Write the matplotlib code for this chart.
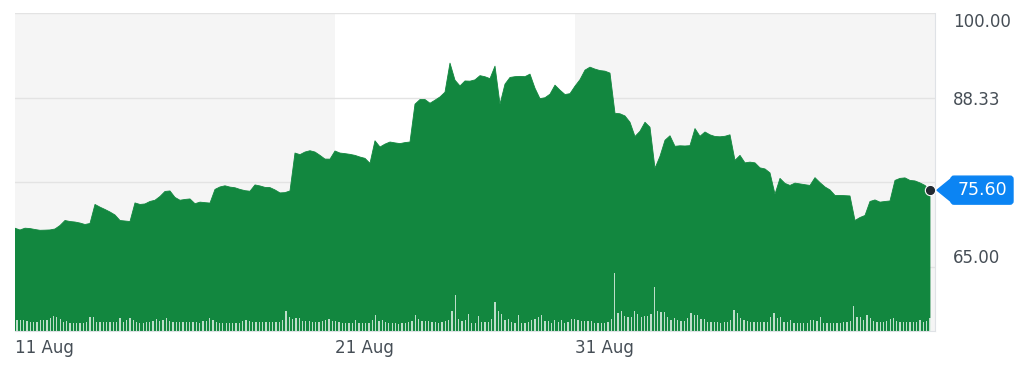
import matplotlib.pyplot as plt
import numpy as np
from matplotlib.patches import Polygon, FancyBboxPatch
from matplotlib.transforms import IdentityTransform

# price, sampled at even steps from 11 Aug to the last trade
price = [
    70.36, 70.11, 70.36, 70.31, 70.18, 70.07, 70.09, 70.12, 70.25, 70.73,
    71.42, 71.28, 71.21, 71.07, 70.87, 71.01, 73.63, 73.26, 72.94, 72.59,
    72.18, 71.42, 71.35, 71.28, 73.84, 73.63, 73.70, 74.04, 74.21, 74.73,
    75.42, 75.49, 74.60, 74.21, 74.32, 74.39, 73.73, 73.95, 73.88, 73.82,
    75.70, 76.04, 76.20, 76.02, 75.93, 75.70, 75.53, 75.45, 76.32, 76.18,
    75.98, 75.95, 75.63, 75.22, 75.26, 75.49, 80.71, 80.49, 80.85, 81.03,
    80.85, 80.39, 79.88, 79.87, 80.99, 80.71, 80.63, 80.53, 80.39, 80.16,
    79.98, 79.29, 82.40, 81.54, 81.94, 82.23, 82.11, 82.01, 82.15, 82.23,
    87.44, 88.08, 88.08, 87.57, 87.99, 88.44, 89.09, 93.10, 90.75, 89.95,
    90.64, 90.61, 90.79, 91.37, 91.22, 90.96, 92.68, 87.44, 90.20, 91.12,
    91.23, 91.27, 91.23, 91.58, 89.64, 88.20, 88.33, 88.82, 90.06, 89.37,
    88.77, 88.89, 89.92, 90.82, 92.13, 92.54, 92.27, 92.07, 91.99, 91.72,
    86.19, 86.12, 85.82, 84.95, 82.99, 83.71, 84.95, 84.26, 78.60, 80.26,
    82.47, 83.09, 81.64, 81.71, 81.68, 81.73, 84.08, 83.02, 83.61, 83.22,
    82.99, 82.95, 83.02, 83.22, 79.70, 80.39, 79.36, 79.46, 79.36, 78.67,
    78.52, 77.98, 75.04, 77.22, 76.53, 76.25, 76.57, 76.46, 76.35, 76.25,
    77.32, 76.64, 76.04, 75.63, 74.87, 74.87, 74.84, 74.80, 71.42, 71.83,
    72.11, 74.04, 74.25, 73.95, 74.04, 74.11, 76.94, 77.22, 77.29, 76.94,
    76.87, 76.60, 76.25, 75.60,
]

# volume per bar (arbitrary units)
volume = [
    11, 11, 11, 10, 9, 9, 9, 11, 11, 11, 13, 15, 14, 12, 9, 10, 8, 8, 8, 8,
    8, 9, 14, 14, 9, 9, 9, 9, 9, 9, 9, 13, 9, 11, 13, 11, 9, 8, 8, 9,
    9, 10, 12, 10, 11, 13, 10, 9, 9, 9, 9, 9, 9, 9, 9, 8, 10, 10, 13, 11,
    9, 8, 8, 8, 8, 8, 8, 8, 10, 11, 10, 9, 9, 9, 9, 9, 9, 9, 9, 9,
    11, 20, 14, 12, 13, 13, 10, 10, 10,
    9, 9, 9, 10, 11, 12, 10, 10, 9, 8, 8, 8, 8, 11, 8, 8, 8, 8, 11, 16,
    10, 11, 9, 8, 8, 8, 7, 8, 8, 9, 10, 16, 12, 10, 10, 10, 9, 9, 8, 9,
    10, 11, 20, 36, 12, 10, 11, 17, 8, 8, 15, 9, 9, 9, 12, 29, 20, 17, 11, 12,
    9, 8, 16, 8, 8, 9, 11, 12, 14, 16, 10, 10, 8, 11, 9, 11, 8, 9, 12, 12,
    11, 10, 10, 10, 10, 8, 8, 8, 8, 9, 12, 58, 18,
    20, 15, 14, 14, 20, 17, 14, 15, 15, 17, 44, 20, 19, 19, 14, 11, 13, 11, 10, 10,
    13, 18, 16, 16, 12, 12, 9, 9, 9, 9, 8, 9, 9, 11, 21, 18, 13, 11, 10, 9,
    9, 9, 9, 9, 9, 14, 18, 13, 14, 9, 9, 11, 8, 8, 8, 8, 8, 11, 11, 10,
    14, 8, 8, 8, 8, 8, 8, 9, 9, 10, 25, 14, 14, 11, 16, 13, 10, 9, 9, 9,
    10, 12, 13, 10, 9, 9, 9, 9, 9, 9, 11, 9, 10, 13,
]

date_labels = ["11 Aug", "21 Aug", "31 Aug"]
date_pos = [0, 64, 112]          # sample index where each day starts
price_ticks = [65.00, 76.67, 88.33, 100.00]
last_price = price[-1]

GREEN = "#12873f"
TEXT = "#464e56"
BLUE = "#0b84f3"

fig = plt.figure(figsize=(10.24, 3.67), dpi=100)
ax = fig.add_axes([15 / 1024, 36 / 367, 920 / 1024, 318 / 367])

x = np.arange(len(price))
x_end = len(price)
ax.set_xlim(0, x_end)
ax.set_ylim(56.2, 100)

# alternating background bands
ax.axvspan(date_pos[0], date_pos[1], color="#f5f5f5", zorder=0, lw=0)
ax.axvspan(date_pos[2], x_end, color="#f5f5f5", zorder=0, lw=0)

for t in price_ticks:
    ax.axhline(t, color="#e3e3e3", lw=1, zorder=1)

ax.fill_between(x, price, 0, color=GREEN, lw=0.6, edgecolor=GREEN, zorder=2)

# volume on its own scale
vax = ax.twinx()
vax.set_ylim(0, 318)
vx = np.linspace(0.4, len(price) - 1, len(volume))
vax.bar(vx, volume, width=0.25, color="white", alpha=0.72, lw=0, zorder=3)
vax.set_yticks([])
for s in vax.spines.values():
    s.set_visible(False)

ax.scatter([x[-1]], [last_price], s=55, color="#232a31", edgecolor="white",
           linewidth=0.8, zorder=5, clip_on=False)

# axes styling
for s in ["left", "top"]:
    ax.spines[s].set_visible(False)
ax.spines["right"].set_color("#dfe2e6")
ax.spines["bottom"].set_color("#dfe2e6")

ax.yaxis.tick_right()
ax.set_yticks(price_ticks)
ax.set_yticklabels(["65.00", "", "88.33", "100.00"])
ax.tick_params(axis="y", length=0, pad=13, labelsize=12, labelcolor=TEXT)
labels = ax.get_yticklabels()
labels[0].set_va("bottom")
labels[3].set_va("top")

ax.set_xticks(date_pos)
ax.set_xticklabels(date_labels)
ax.tick_params(axis="x", length=0, pad=6, labelsize=12, labelcolor=TEXT)
for lb in ax.get_xticklabels():
    lb.set_ha("left")

# last price tag
fig.canvas.draw()
_, yd = ax.transData.transform((0, last_price))
tip = 937
tri = Polygon([[tip, yd], [tip + 16, yd + 13], [tip + 16, yd - 13]],
              closed=True, color=BLUE, transform=IdentityTransform())
box = FancyBboxPatch((tip + 14, yd - 14), 62, 28,
                     boxstyle="round,pad=0,rounding_size=3",
                     color=BLUE, transform=IdentityTransform())
fig.patches.extend([tri, box])
fig.text((tip + 45) / 1024, yd / 367, f"{last_price:.2f}", color="white",
         fontsize=12.5, ha="center", va="center")

fig.savefig("out.png", dpi=100)
